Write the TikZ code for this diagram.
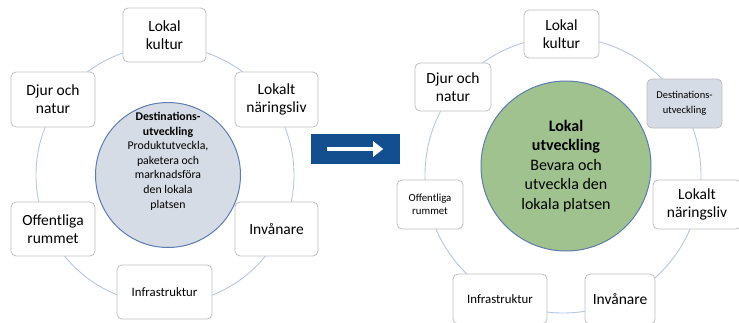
\documentclass[tikz,border=0pt]{standalone}
\usepackage{fontspec}
\setmainfont{Carlito}
\usetikzlibrary{arrows.meta,positioning}

\definecolor{ringblue}{HTML}{B4C7E7}
\definecolor{boxgray}{HTML}{BFBFBF}
\definecolor{paleblue}{HTML}{D6DCE5}
\definecolor{edgeblue}{HTML}{5B7DB1}
\definecolor{leafgreen}{HTML}{A0C28F}
\definecolor{navy}{HTML}{134F8E}

\begin{document}
\begin{tikzpicture}[
    x=1pt, y=-1pt,
    ring/.style={draw=ringblue, line width=0.9pt},
    themebox/.style={draw=boxgray, fill=white, rounded corners=5pt, align=center, line width=0.8pt},
    big/.style={font=\fontsize{15.5}{18}\selectfont},
    small/.style={font=\fontsize{12.8}{15}\selectfont},
    tiny/.style={font=\fontsize{10.8}{13}\selectfont},
    hub/.style={circle, draw=edgeblue, line width=1pt, align=center, inner sep=0pt}
  ]
  \useasboundingbox (0,0) rectangle (739,322);

  % left wheel
  \draw[ring] (165,175) circle[radius=129];
  \node[hub, fill=paleblue, minimum size=145] (hubL) at (168,175) {};
  \node[align=center, font=\fontsize{11.8}{14.6}\selectfont] (hubtextL) at ([yshift=14]hubL.center)
    {\textbf{Destinations-}\\\textbf{utveckling}\\Produktutveckla,\\paketera och\\marknadsföra\\den lokala\\platsen};
  \node[themebox, big, minimum width=83, minimum height=54] (kulturL) at (164.5,35) {Lokal\\kultur};
  \node[themebox, big, minimum width=84, minimum height=55] (djurL) at (53,99.5) {Djur och\\natur};
  \node[themebox, big, minimum width=83, minimum height=55] (naringL) at (276.5,99.5) {Lokalt\\näringsliv};
  \node[themebox, big, minimum width=84, minimum height=54] (offL) at (53,229) {Offentliga\\rummet};
  \node[themebox, big, minimum width=83, minimum height=54] (invL) at (276.5,229) {Invånare};
  \node[themebox, small, minimum width=95, minimum height=54] (infraL) at (164.5,292) {Infrastruktur};

  % arrow between the wheels
  \node[fill=navy, minimum width=89, minimum height=30, inner sep=0pt] (shift) at (355.5,149) {};
  \draw[white, line width=4.5pt, -{Triangle[length=10pt,width=15pt]}]
    ([xshift=16]shift.west) -- ([xshift=-17]shift.east);

  % right wheel
  \draw[ring] (563,175) circle[radius=138];
  \node[hub, fill=leafgreen, minimum size=170, font=\fontsize{16}{19.5}\selectfont] (hubR) at (566,166)
    {\textbf{Lokal}\\\textbf{utveckling}\\Bevara och\\utveckla den\\lokala platsen};
  \node[themebox, big, minimum width=75, minimum height=48] (kulturR) at (561.5,34) {Lokal\\kultur};
  \node[themebox, big, minimum width=76, minimum height=48] (djurR) at (453,87) {Djur och\\natur};
  \node[themebox, font=\fontsize{10.5}{15}\selectfont, fill=paleblue, minimum width=75, minimum height=49] (destR) at (684.5,103.5) {Destinations-\\utveckling};
  \node[themebox, tiny, minimum width=66, minimum height=49] (offR) at (430,204.5) {Offentliga\\rummet};
  \node[themebox, big, minimum width=88, minimum height=49] (naringR) at (697,204.5) {Lokalt\\näringsliv};
  \node[themebox, small, minimum width=94, minimum height=50] (infraR) at (500,299) {Infrastruktur};
  \node[themebox, big, minimum width=70, minimum height=50] (invR) at (620,299) {Invånare};
\end{tikzpicture}
\end{document}
